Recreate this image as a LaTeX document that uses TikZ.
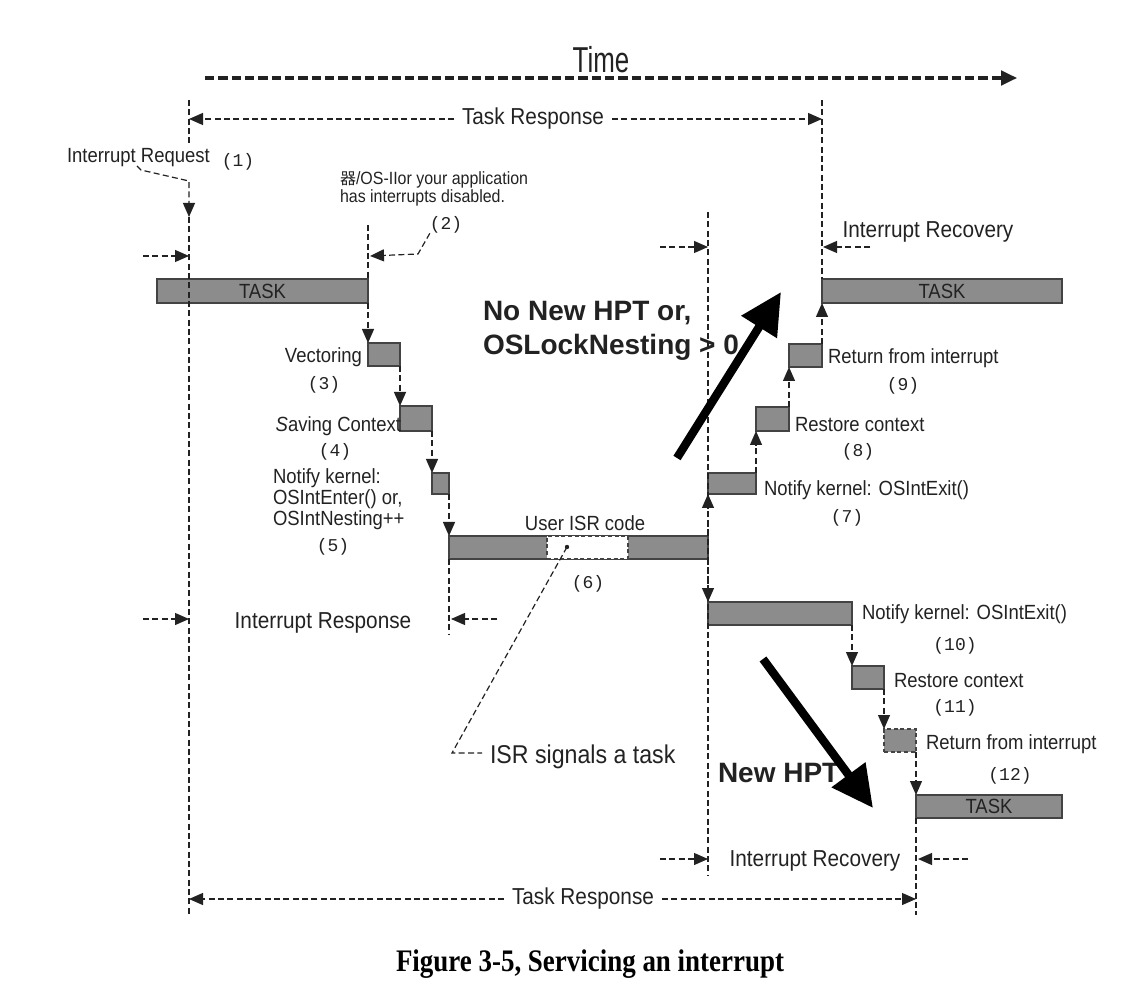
\documentclass[tikz,border=0pt]{standalone}
\usepackage{fontspec}
\usetikzlibrary{arrows.meta,fit,calc}
\setmainfont{Liberation Sans}[FakeStretch=0.9]
\newfontfamily\fTime{Liberation Sans}[FakeStretch=0.72]
\newfontfamily\fBold{Liberation Sans}
\newfontfamily\fMono{Liberation Mono}
\newfontfamily\fCap{Liberation Serif}[FakeStretch=0.86]
\newfontfamily\fCJK{Noto Sans CJK SC}
\definecolor{boxgray}{HTML}{8C8C8C}
\definecolor{ink}{HTML}{222222}
\newcommand\Lsz{\fontsize{15.4pt}{15.75pt}\selectfont}
\newcommand\Isz{\fontsize{17.3pt}{18pt}\selectfont}
\newcommand\Ssz{\fontsize{13.3pt}{13.2pt}\selectfont}
\newcommand\Msz{\fMono\fontsize{13.5pt}{14pt}\selectfont}
\newcommand\Bsz{\fBold\bfseries\fontsize{21pt}{25pt}\selectfont}
\begin{document}
\begin{tikzpicture}[x=0.75pt,y=-0.75pt, font=\Lsz, text=ink,
  every node/.style={inner sep=0pt, outer sep=0pt},
  dl/.style={draw=ink, line width=0.9pt, dash pattern=on 4.5pt off 2.5pt},
  tip/.style={-{Triangle[length=10.5pt,width=9pt]}},
  gbox/.style={draw=ink!85, fill=boxgray, line width=0.9pt, inner sep=0pt},
  wbox/.style={draw=ink!85, fill=white, line width=0.9pt, inner sep=0pt, dash pattern=on 3pt off 2pt},
  dbox/.style={gbox, dash pattern=on 3pt off 2pt},
  big/.style={draw=black, line width=6.3pt, -{Triangle[length=31pt,width=30pt]}},
  timeline/.style={draw=ink, line width=2.3pt, dash pattern=on 7pt off 3pt, -{Triangle[length=12pt,width=11pt]}},
  num/.style={font=\Msz},
  ivl/.style={font=\Isz}
]
\useasboundingbox (0,0) rectangle (1135,994);

% ---------- Time ----------
\node[font=\fTime\fontsize{27pt}{28pt}\selectfont] (time) at (601,60) {Time};
\coordinate (t0) at (205,78);
\coordinate (t1) at (1017,78);
\draw[timeline] (t0) -- (t1);

% ---------- main vertical reference lines ----------
\coordinate (L1) at (189,100);
\coordinate (L1a) at (189,146);
\coordinate (irtip) at (189,217);
\coordinate (L2) at (189,915);
\coordinate (R1) at (822,100);
\coordinate (M1) at (708,212);
\coordinate (M2) at (708,875);
\coordinate (E2) at (916,915);

% ---------- boxes ----------
\node[gbox, fit={(157,279) (368,303)}] (task1) {};
\node[gbox, fit={(368,343) (400,366)}] (vec) {};
\node[gbox, fit={(400,406) (432,431)}] (save) {};
\node[gbox, fit={(432,473) (449,494)}] (nfy) {};
\node[gbox, fit={(449,536) (708,559)}] (isr) {};
\node[wbox, fit={(547,536) (628,559)}] (isrw) {};
\node[gbox, fit={(708,473) (756,494)}] (b7) {};
\node[gbox, fit={(756,407) (789,431)}] (b8) {};
\node[gbox, fit={(789,344) (822,367)}] (b9) {};
\node[gbox, fit={(822,279) (1062,303)}] (task2) {};
\node[gbox, fit={(708,602) (852,625)}] (b10) {};
\node[gbox, fit={(852,666) (884,689)}] (b11) {};
\node[dbox, fit={(884,729) (916,752)}] (b12) {};
\node[gbox, fit={(916,795) (1062,818)}] (task3) {};
\node (task1t) at (task1.center) {TASK};
\node (task2t) at (task2.center) {TASK};
\node (task3t) at (task3.center) {TASK};

% ---------- vertical dashed lines ----------
\draw[dl] (L1) -- (L1a);
\draw[dl] (irtip) -- (L2);
\draw[dl] (R1) -- (task2.north west);
\draw[dl] (M1) -- (M2);
\draw[dl] (task3.south west) -- (E2);
\coordinate (dis) at (368,225);
\draw[dl] (dis) -- (task1.north east);
\coordinate (irsp) at (449,634);
\draw[dl] (isr.south west) -- (irsp);

% ---------- chain connectors ----------
\draw[dl,tip] (task1.south east) -- (vec.north west);
\draw[dl,tip] (vec.south east) -- (save.north west);
\draw[dl,tip] (save.south east) -- (nfy.north west);
\draw[dl,tip] (nfy.south east) -- (isr.north west);
\draw[dl,tip] (isr.north east) -- (b7.south west);
\draw[dl,tip] (b7.north east) -- (b8.south west);
\draw[dl,tip] (b8.north east) -- (b9.south west);
\draw[dl,tip] (b9.north east) -- (task2.south west);
\draw[dl,tip] (isr.south east) -- (b10.north west);
\draw[dl,tip] (b10.south east) -- (b11.north west);
\draw[dl,tip] (b11.south east) -- (b12.north west);
\draw[dl,tip] (b12.south east) -- (task3.north west);

% ---------- Task Response (top) ----------
\node[ivl] (tr1) at (533,119) {Task Response};
\draw[dl,tip] ([xshift=-6]tr1.west) -- (tr1.west -| L1);
\draw[dl,tip] ([xshift=6]tr1.east) -- (tr1.east -| R1);

% ---------- Interrupt Request ----------
\node[anchor=west] (ir) at (67,158) {Interrupt Request};
\node[num] (n1) at (238,162) {(1)};
\coordinate (irl) at (137,166);
\draw[dl,tip] (irl) -- (141,170) -- (189,181) -- (irtip);

% ---------- interrupts disabled ----------
\node[font=\Ssz, align=left, anchor=north west] (dtxt) at (340,172)
  {{\fCJK\fontsize{12pt}{13pt}\selectfont 器}/OS-IIor your application\\has interrupts disabled.};
\node[num] (n2) at (446,225) {(2)};
\coordinate (d2) at (370,256);
\draw[dl,tip] (n2.south west) -- (418,254) -- (d2);
\coordinate (a1s) at (143,256);
\coordinate (a1e) at (189,256);
\draw[dl,tip] (a1s) -- (a1e);

% ---------- left labels ----------
\node[anchor=east] (lvec) at (362,357) {Vectoring};
\node[num] (n3) at (324,385) {(3)};
\node[anchor=east] (lsave) at (401,426) {\textit{S}aving Context};
\node[num] (n4) at (335,452) {(4)};
\node[anchor=west, align=left] (lnfy) at (273,499) {Notify kernel:\\OSIntEnter() or,\\OSIntNesting++};
\node[num] (n5) at (333,547) {(5)};

% ---------- ISR ----------
\node (luser) at (585,523) {User ISR code};
\node[num] (n6) at (588,584) {(6)};
\coordinate (dot) at (567,547);
\fill[ink] (dot) circle (2.2);
\node[font=\fontsize{19.3pt}{20pt}\selectfont, anchor=west] (sig) at (490,757) {ISR signals a task};
\draw[dl] (dot) -- (452,753) -- ([xshift=-6]sig.west |- 0,753);

% ---------- Interrupt Response ----------
\node[ivl] (iresp) at (323,623) {Interrupt Response};
\coordinate (a2s) at (143,619);
\coordinate (a2e) at (189,619);
\draw[dl,tip] (a2s) -- (a2e);
\coordinate (a3s) at (497,619);
\coordinate (a3e) at (451,619);
\draw[dl,tip] (a3s) -- (a3e);

% ---------- Interrupt Recovery (top) ----------
\node[ivl] (irec1) at (928,232) {Interrupt Recovery};
\coordinate (a4s) at (660,247);
\coordinate (a4e) at (708,247);
\draw[dl,tip] (a4s) -- (a4e);
\coordinate (a5s) at (870,247);
\coordinate (a5e) at (823,247);
\draw[dl,tip] (a5s) -- (a5e);

% ---------- right labels (upper) ----------
\node[anchor=west] (l9) at (828,358) {Return from interrupt};
\node[num] (n9) at (903,386) {(9)};
\node[anchor=west] (l8) at (795,425) {Restore context};
\node[num] (n8) at (858,452) {(8)};
\node[anchor=west] (l7) at (764,490) {Notify kernel: OSIntExit()};
\node[num] (n7) at (847,518) {(7)};

% ---------- right labels (lower) ----------
\node[anchor=west] (l10) at (862,614) {Notify kernel: OSIntExit()};
\node[num] (n10) at (955,646) {(10)};
\node[anchor=west] (l11) at (894,681) {Restore context};
\node[num] (n11) at (955,708) {(11)};
\node[anchor=west] (l12) at (926,744) {Return from interrupt};
\node[num] (n12) at (1010,776) {(12)};

% ---------- big arrows and bold texts ----------
\node[font=\Bsz, align=left, anchor=west] (nonew) at (483,331) {No New HPT or,\\OSLockNesting > 0};
\coordinate (b1s) at (677,458);
\coordinate (b1e) at (781,292);
\draw[big] (b1s) -- (b1e);
\node[font=\Bsz, anchor=west] (newhpt) at (718,773) {New HPT};
\coordinate (b2s) at (763,659);
\coordinate (b2e) at (873,808);
\draw[big] (b2s) -- (b2e);

% ---------- Interrupt Recovery (bottom) ----------
\node[ivl] (irec2) at (815,861) {Interrupt Recovery};
\coordinate (a6s) at (660,859);
\coordinate (a6e) at (708,859);
\draw[dl,tip] (a6s) -- (a6e);
\coordinate (a7s) at (968,859);
\coordinate (a7e) at (918,859);
\draw[dl,tip] (a7s) -- (a7e);

% ---------- Task Response (bottom) ----------
\node[ivl] (tr2) at (583,899) {Task Response};
\draw[dl,tip] ([xshift=-6]tr2.west) -- (tr2.west -| L2);
\draw[dl,tip] ([xshift=6]tr2.east) -- (tr2.east -| E2);

% ---------- caption ----------
\node[font=\fCap\bfseries\fontsize{23.5pt}{24pt}\selectfont, text=black] (cap) at (590,964) {Figure 3-5, Servicing an interrupt};
\end{tikzpicture}
\end{document}
